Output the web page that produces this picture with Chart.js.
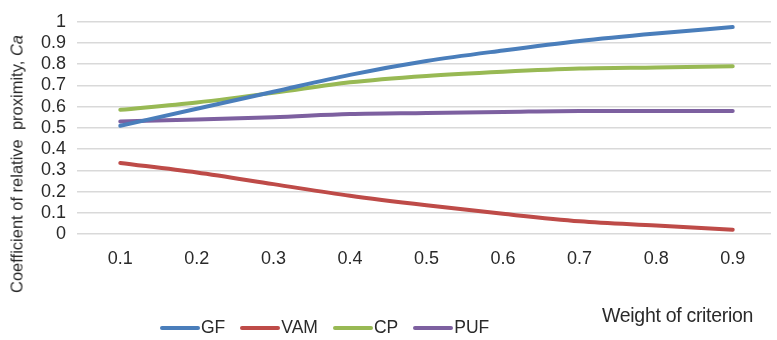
<!DOCTYPE html>
<html><head><meta charset="utf-8">
<script src="https://cdn.jsdelivr.net/npm/chart.js@4/dist/chart.umd.min.js"></script>
<style>
html,body{margin:0;padding:0;background:#fff;}
#wrap{position:relative;width:777px;height:340px;font-family:"Liberation Sans",Arial,sans-serif;color:#2a2a2a;}
#c{position:absolute;left:0;top:0;}
#ytitle{position:absolute;left:17px;top:164px;transform:translate(-50%,-50%) rotate(-90deg);white-space:nowrap;font-size:16.5px;}
#xtitle{position:absolute;left:602px;top:304px;font-size:19.5px;white-space:nowrap;letter-spacing:-0.3px;}
#legend{position:absolute;left:160px;top:317px;display:flex;font-size:17.5px;}
.li{display:flex;align-items:center;margin-right:15px;}
.sw{width:40px;height:4px;border-radius:2px;margin-right:1px;}
</style></head>
<body><div id="wrap">
<canvas id="c" width="777" height="340"></canvas>
<div id="ytitle">Coefficient of relative&nbsp; proximity, <i>Ca</i></div>
<div id="xtitle">Weight of criterion</div>
<div id="legend"></div>
</div>
<script>
const categories = ["0.1","0.2","0.3","0.4","0.5","0.6","0.7","0.8","0.9"];
const GF  = [0.51,0.59,0.67,0.75,0.815,0.865,0.91,0.945,0.975];
const VAM = [0.335,0.29,0.235,0.18,0.135,0.095,0.06,0.04,0.02];
const CP  = [0.585,0.62,0.665,0.715,0.745,0.765,0.78,0.785,0.79];
const PUF = [0.53,0.54,0.55,0.565,0.57,0.575,0.58,0.58,0.58];
const seriesNames = ["GF","VAM","CP","PUF"];
const seriesColors = ["#4a7ebb","#be4b48","#98b954","#7d60a0"];
const seriesData = [GF,VAM,CP,PUF];

const datasets = seriesNames.map((n,i)=>({
  label:n, data:seriesData[i], borderColor:seriesColors[i], backgroundColor:seriesColors[i],
  borderWidth:4, pointRadius:0, tension:0.35, cubicInterpolationMode:'monotone', borderCapStyle:'round', fill:false
}));

const leg = document.getElementById('legend');
seriesNames.forEach((n,i)=>{
  const d=document.createElement('div');d.className='li';
  d.innerHTML='<span class="sw" style="background:'+seriesColors[i]+'"></span><span>'+n+'</span>';
  leg.appendChild(d);
});

new Chart(document.getElementById('c'),{
  type:'line',
  data:{labels:categories,datasets},
  options:{
    responsive:false, animation:false,
    layout:{padding:{top:19,right:6,left:0,bottom:0}},
    plugins:{legend:{display:false},tooltip:{enabled:false}},
    scales:{
      x:{
        offset:true,
        grid:{display:false,drawTicks:false,offset:true},
        border:{display:false},
        ticks:{font:{family:"Liberation Sans",size:18},color:'#2a2a2a',padding:14,maxRotation:0,autoSkip:false},
        afterFit:s=>{s.height=106;}
      },
      y:{
        min:0,max:1,
        grid:{color:'#d9d9d9',lineWidth:1.5,drawTicks:true,tickLength:5},
        border:{display:false},
        ticks:{stepSize:0.1,autoSkip:false,font:{family:"Liberation Sans",size:18},color:'#2a2a2a',padding:11,
          callback:v=>Math.round(v*10)/10+''},
        afterFit:s=>{s.width=82;}
      }
    }
  }
});
</script>
</body></html>
